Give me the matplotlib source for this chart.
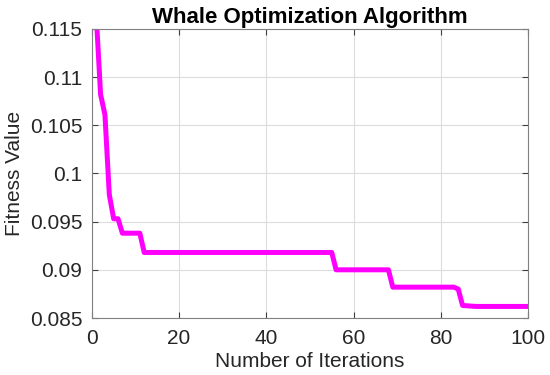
import matplotlib
matplotlib.use("Agg")
import matplotlib.pyplot as plt

# convergence curve (iteration, best fitness)
iterations = [1, 2, 3, 4, 5, 6, 7, 11, 12, 55, 56, 68, 69, 83, 84, 85, 88, 100]
fitness = [0.1165, 0.1082, 0.1061, 0.0978, 0.0953, 0.0953, 0.0938, 0.0938,
           0.0918, 0.0918, 0.0900, 0.0900, 0.0882, 0.0882, 0.0880, 0.0863,
           0.0862, 0.0862]

x_ticks = [0, 20, 40, 60, 80, 100]
y_ticks = [0.085, 0.09, 0.095, 0.1, 0.105, 0.11, 0.115]
y_ticklabels = ["0.085", "0.09", "0.095", "0.1", "0.105", "0.11", "0.115"]

plt.rcParams['font.family'] = ['Liberation Sans', 'DejaVu Sans']

fig = plt.figure(figsize=(5.5, 3.75), dpi=100)
ax = fig.add_axes([0.167, 0.152, 0.793, 0.771])

ax.plot(iterations, fitness, color='#ff00ff', linewidth=3.6,
        solid_joinstyle='round', solid_capstyle='butt')

ax.set_xlim(0, 100)
ax.set_ylim(0.085, 0.115)
ax.set_xticks(x_ticks)
ax.set_yticks(y_ticks)
ax.set_yticklabels(y_ticklabels)

ax.grid(True, color='#dcdcdc', linewidth=0.8)
ax.set_axisbelow(True)
for s in ax.spines.values():
    s.set_color('#808080')
    s.set_linewidth(0.8)
ax.tick_params(direction='in', length=4, width=0.8, color='#404040',
               labelsize=15, labelcolor='#262626', top=True, right=True)
ax.tick_params(axis='x', pad=8)
ax.tick_params(axis='y', pad=7)

ax.set_xlabel("Number of Iterations", fontsize=15, color='#262626', labelpad=3)
ax.set_ylabel("Fitness Value", fontsize=15, color='#262626', labelpad=4)
ax.set_title("Whale Optimization Algorithm", fontsize=16, fontweight='bold',
             color='black', pad=4)

fig.savefig("out.png", dpi=100)
